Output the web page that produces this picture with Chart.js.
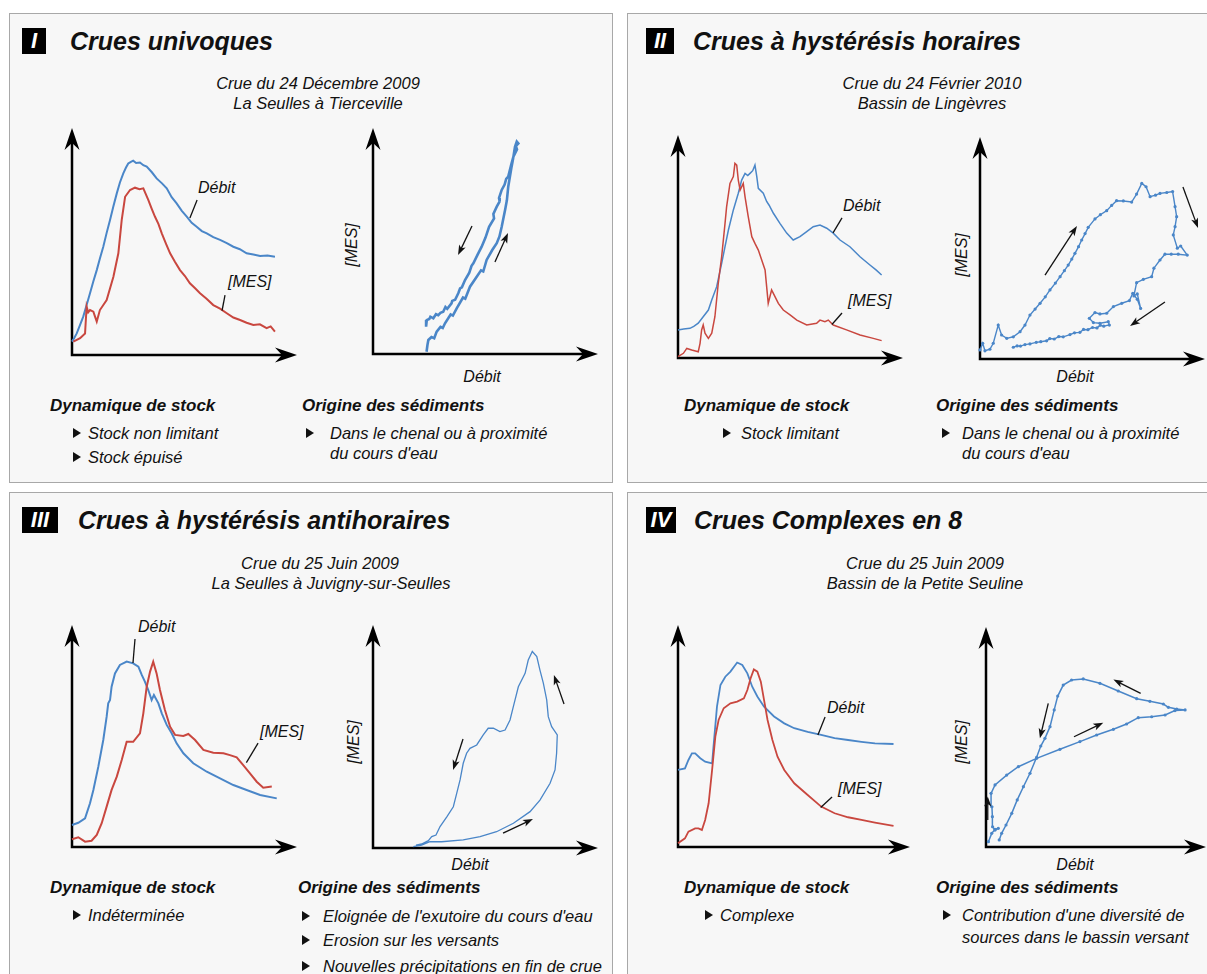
<!DOCTYPE html>
<html><head><meta charset="utf-8">
<script src="https://cdn.jsdelivr.net/npm/chart.js@4"></script>
<style>
html,body{margin:0;padding:0;background:#fff;overflow:hidden}
#root{position:relative;width:1207px;height:974px;overflow:hidden;font-family:"Liberation Sans",Arial,Helvetica,sans-serif;color:#111}
.panel{position:absolute;background:#f7f7f7;border:1px solid #a8a8a8;box-sizing:border-box}
.t{position:absolute;white-space:nowrap;font-style:italic;transform:translateY(-50%);line-height:1}
.c{transform:translate(-50%,-50%)}
.tt{font-weight:bold;font-size:25px}
.sub{font-size:16.5px}
.hd{font-weight:bold;font-size:17px}
.bl{font-size:16.5px}
.lab{font-size:16px}
.rot{transform:translate(-50%,-50%) rotate(-90deg)}
.num{position:absolute;background:#000;color:#fff;font-weight:bold;font-style:italic;font-size:22px;line-height:26px;height:26px;text-align:center}
.tri{position:absolute;width:0;height:0;border-left:8px solid #111;border-top:5.5px solid transparent;border-bottom:5.5px solid transparent;transform:translateY(-50%)}
canvas{position:absolute}
</style></head>
<body><div id="root">
<div class="panel" style="left:9px;top:13px;width:604px;height:470px"></div>
<div class="panel" style="left:627px;top:13px;width:600px;height:470px"></div>
<div class="panel" style="left:9px;top:492px;width:604px;height:500px"></div>
<div class="panel" style="left:627px;top:492px;width:600px;height:500px"></div>

<div class="num" style="left:22px;top:28px;width:24px">I</div>
<div class="t tt" style="left:70px;top:41px">Crues univoques</div>
<div class="t sub c" style="left:318px;top:83px">Crue du 24 Décembre 2009</div>
<div class="t sub c" style="left:318px;top:103px">La Seulles à Tierceville</div>
<div class="t hd" style="left:50px;top:405px">Dynamique de stock</div>
<div class="tri" style="left:73px;top:433px"></div><div class="t bl" style="left:88px;top:433px">Stock non limitant</div>
<div class="tri" style="left:73px;top:457px"></div><div class="t bl" style="left:88px;top:457px">Stock épuisé</div>
<div class="t hd" style="left:302px;top:405px">Origine des sédiments</div>
<div class="tri" style="left:306px;top:433px"></div><div class="t bl" style="left:330px;top:433px">Dans le chenal ou à proximité</div>
<div class="t bl" style="left:330px;top:453px">du cours d'eau</div>

<div class="num" style="left:646px;top:28px;width:28px">II</div>
<div class="t tt" style="left:693px;top:41px">Crues à hystérésis horaires</div>
<div class="t sub c" style="left:932px;top:83px">Crue du 24 Février 2010</div>
<div class="t sub c" style="left:932px;top:103px">Bassin de Lingèvres</div>
<div class="t hd" style="left:684px;top:405px">Dynamique de stock</div>
<div class="tri" style="left:723px;top:433px"></div><div class="t bl" style="left:741px;top:433px">Stock limitant</div>
<div class="t hd" style="left:936px;top:405px">Origine des sédiments</div>
<div class="tri" style="left:942px;top:433px"></div><div class="t bl" style="left:962px;top:433px">Dans le chenal ou à proximité</div>
<div class="t bl" style="left:962px;top:453px">du cours d'eau</div>

<div class="num" style="left:22px;top:507px;width:36px">III</div>
<div class="t tt" style="left:78px;top:520px">Crues à hystérésis antihoraires</div>
<div class="t sub c" style="left:320px;top:563px">Crue du 25 Juin 2009</div>
<div class="t sub c" style="left:331px;top:583px">La Seulles à Juvigny-sur-Seulles</div>
<div class="t hd" style="left:50px;top:887px">Dynamique de stock</div>
<div class="tri" style="left:73px;top:915px"></div><div class="t bl" style="left:88px;top:915px">Indéterminée</div>
<div class="t hd" style="left:298px;top:887px">Origine des sédiments</div>
<div class="tri" style="left:302px;top:916px"></div><div class="t bl" style="left:323px;top:916px">Eloignée de l'exutoire du cours d'eau</div>
<div class="tri" style="left:302px;top:940px"></div><div class="t bl" style="left:323px;top:940px">Erosion sur les versants</div>
<div class="tri" style="left:302px;top:966px"></div><div class="t bl" style="left:323px;top:966px">Nouvelles précipitations en fin de crue</div>

<div class="num" style="left:646px;top:507px;width:30px">IV</div>
<div class="t tt" style="left:694px;top:520px">Crues Complexes en 8</div>
<div class="t sub c" style="left:925px;top:563px">Crue du 25 Juin 2009</div>
<div class="t sub c" style="left:925px;top:583px">Bassin de la Petite Seuline</div>
<div class="t hd" style="left:684px;top:887px">Dynamique de stock</div>
<div class="tri" style="left:705px;top:915px"></div><div class="t bl" style="left:720px;top:915px">Complexe</div>
<div class="t hd" style="left:936px;top:887px">Origine des sédiments</div>
<div class="tri" style="left:943px;top:915px"></div><div class="t bl" style="left:962px;top:915px">Contribution d'une diversité de</div>
<div class="t bl" style="left:962px;top:937px">sources dans le bassin versant</div>

<!-- axis & curve labels -->
<div class="t lab" style="left:198px;top:188px">Débit</div>
<div class="t lab" style="left:228px;top:282px">[MES]</div>
<div class="t lab rot" style="left:352px;top:245px">[MES]</div>
<div class="t lab c" style="left:482px;top:377px">Débit</div>

<div class="t lab" style="left:843px;top:206px">Débit</div>
<div class="t lab" style="left:848px;top:301px">[MES]</div>
<div class="t lab rot" style="left:962px;top:255px">[MES]</div>
<div class="t lab c" style="left:1075px;top:377px">Débit</div>

<div class="t lab" style="left:138px;top:627px">Débit</div>
<div class="t lab" style="left:260px;top:732px">[MES]</div>
<div class="t lab rot" style="left:354px;top:742px">[MES]</div>
<div class="t lab c" style="left:470px;top:865px">Débit</div>

<div class="t lab" style="left:827px;top:708px">Débit</div>
<div class="t lab" style="left:838px;top:789px">[MES]</div>
<div class="t lab rot" style="left:962px;top:742px">[MES]</div>
<div class="t lab c" style="left:1075px;top:865px">Débit</div>
</div>
<script>
// ---------- DATA (relative units: 0..100 along each axis) ----------
const I_debit = [[0,5.9],[1,7.5],[2.1,9.5],[3.5,13],[5,16.9],[6.5,22],[8,27.2],[9.5,32.5],[11,37.4],[12.4,42.5],[13.9,47.7],[15.4,53.8],[16.9,59.5],[18.4,65.5],[19.9,71.2],[21.3,76],[22.8,80],[24,82.6],[25,84.4],[26,85],[27.2,85.6],[28.5,84.6],[30.2,84.8],[31.7,83.6],[33.2,83],[35.5,80.5],[37.6,77.8],[40,75.6],[42.1,73.4],[44.3,69.5],[46.5,66.8],[48.8,63.5],[51,61],[53.2,58.2],[55.4,56.5],[57.7,54.6],[59.9,53.6],[62.8,51.9],[65.8,50.7],[68.8,49.3],[71.7,47.7],[74.6,46.6],[77.6,44.8],[80.6,44.3],[83.6,43.6],[86.9,43.8],[90.2,43.3]];
const I_mes = [[0.6,5.9],[3.6,7.4],[5.8,9.5],[6.5,21.3],[7.2,18.8],[8,19.8],[9.5,19.1],[10.2,17],[11,14.7],[12.4,19.8],[15.4,24.2],[18.4,34.5],[20.6,44.8],[22.1,59.5],[23.6,69.7],[25.8,72.7],[28,73.7],[30,73],[31.7,73.4],[33.9,68.3],[35.4,64.5],[36.9,60.9],[38.4,57.8],[39.9,53.6],[41.8,49],[43.6,44.8],[45.8,41],[48,37.4],[50.2,34.8],[52.4,31.6],[54.6,29.5],[56.9,27.2],[59.8,24.8],[62.8,22],[65.8,20.4],[68.8,18.4],[71.7,16.5],[74.7,15.4],[77.6,14.2],[80.6,13.2],[83.5,13.5],[86.5,11.8],[88.3,12.6],[90.2,10.3]];
const I_loop = [[23.8,1],[24.2,4],[24.6,6.2],[26,7.5],[27.2,7],[28.3,9.9],[30,12],[31,11.5],[32,13.6],[34.5,17.5],[35.5,17],[37.2,20.2],[40,25],[41,24.5],[43.1,29.8],[46.1,34.2],[48,37],[49,36.5],[50.5,41.6],[53,46],[55,49],[56.2,52],[57.2,56.3],[58.7,63.7],[59.5,68],[60.1,74],[61.6,82.9],[62.2,86],[63.1,91.7],[63.9,94],[64.6,93.2],[63.5,92],[64,90.5],[62.4,87.3],[61.5,84],[60.1,78.5],[59.2,77.5],[58.5,75],[57.2,72.6],[56,69],[56.3,67.5],[55,65.2],[53.5,62],[53.8,60],[51.6,56.3],[50,51.5],[48.3,47.5],[46.5,44],[44.6,40.1],[43.8,39],[42.8,36],[40.9,32.7],[39.5,29.5],[38.7,29],[37.9,26.9],[36.5,24],[35.2,23.5],[34.9,22.4],[33,20],[32.2,20.8],[31.2,18.7],[30,18.2],[29,17.2],[28,17.6],[26.8,15.8],[25.5,16.5],[25,15.5],[23.9,15],[23.6,12.1]];

const II_debit = [[0,12.6],[2.5,13],[5.3,13.3],[7,14.2],[9,15.6],[11.2,18.5],[13.5,21.5],[15,26],[17.2,32],[19.4,42.5],[20.9,49.9],[22.4,57.4],[24.6,66.4],[26.8,73.9],[28.3,79.8],[29.8,82.8],[31,81.8],[32,82.8],[33.2,84],[34.2,86.5],[35,81.4],[35.7,76.1],[37.9,73.9],[39.4,70.2],[40.5,68.5],[42.4,64.9],[45.3,60.4],[48.3,56],[51.2,52.9],[54.2,54.4],[57.2,56.7],[60.1,58.9],[63.1,59.6],[66.1,58.2],[69,56],[72,52.9],[76.4,49.9],[80.9,45.4],[85.3,41.7],[88,39.5],[90.5,37.2]];
const II_mes = [[0,0.6],[2.4,2.1],[3.9,4.3],[6.1,3.6],[9,2.8],[9.8,6.6],[10.5,12.6],[11.2,14.8],[12,11.1],[13.5,8.8],[15,11.1],[16.4,18.5],[17.9,33.5],[19.4,45.4],[20.9,60.4],[21.6,67.8],[23.1,78.3],[24.6,81.4],[25.3,87.3],[26.1,86.5],[26.8,79.8],[27.6,75.3],[29,78.3],[29.8,72.3],[31.2,63.5],[32.8,54.4],[34.2,51.4],[35.7,48.4],[37.2,43.9],[38.7,39.5],[40.1,24.5],[41.6,30.5],[43.1,27.5],[44.6,24.5],[46.8,21.5],[49.8,19.3],[52.8,17],[57.2,14.8],[61.6,15.6],[63.1,17],[65.3,16.3],[66.8,17],[69,14.8],[74.9,12.6],[80.9,10.3],[86.8,8.8],[90.5,7.8]];
const II_loop = [[0,4.1],[1.2,7.1],[2.2,3.7],[4.4,4.4],[5.9,7.1],[8.1,15.3],[9.6,10.8],[11.9,9.3],[14.8,10],[17.8,12.3],[20,15.3],[22.2,19.8],[24.5,22.5],[26.7,25.1],[29,28],[31.1,31.1],[33.5,34.2],[35.6,37.1],[37.5,39.8],[39.2,42.3],[40.8,45],[42.2,47.6],[43.8,50.6],[45.2,53.6],[46.7,56.5],[48.1,59.3],[51.1,63.1],[53.5,65],[56.3,66.8],[58.5,69.2],[60.7,71.3],[63.7,71.2],[67.4,70.7],[69.6,74.3],[71.9,79.1],[73.8,77.6],[75.6,73.1],[78,73.8],[80,74.6],[83,75],[85.6,75.4],[86.7,68.6],[87.4,64.1],[86.7,59.6],[85.9,55.9],[87.7,49.9],[89.2,50.9],[92.1,46.8],[88.1,47.2],[85,47.2],[82.2,47.2],[80,44.6],[77.3,40.9],[76.3,37.1],[72.6,35.9],[69.6,34.4],[68.4,28.4],[69.9,29.3],[71.4,22.8],[69.9,26.9],[67.9,29.6],[66.4,26.3],[63,25.1],[59.3,23.6],[56.3,20.6],[53.3,20.3],[51.1,20.9],[48.6,18.3],[50.4,16.4],[53.3,16.1],[57,16.8],[57.5,15.3],[55,14.8],[53.5,15.2],[52,14],[50,14.2],[48,13.2],[46,13.3],[44.4,12],[42,11.8],[40,11],[37,10],[35,10.1],[33,9],[31,9.2],[29.6,8.2],[27,7.8],[25,7.5],[22.2,6.8],[20,6.5],[18,5.8],[16.5,5.9],[14.8,5.3]];

const III_debit = [[0,9.9],[2.8,10.9],[5.8,12.9],[8,19.7],[9.5,25.7],[11.7,36.2],[13.9,48.2],[15.4,58.7],[16.1,64.7],[16.9,66.2],[17.6,72.2],[19.1,78.2],[21.3,82],[24.3,83.5],[27.2,82.7],[29.5,81.2],[31,77.5],[32.4,74.5],[33.9,70.7],[35.4,66.2],[36.4,68.5],[38.4,64.7],[39.9,60.2],[42.1,55],[44.3,51.2],[46.5,46.7],[49.5,42.2],[53.9,37.7],[59.9,33.9],[65.8,30.9],[71.7,27.9],[77.6,25.7],[83.6,23.4],[91,21.9]];
const III_mes = [[0,3.5],[2.8,4.4],[5.8,2.4],[8.7,2.8],[11,5.4],[13.2,10.7],[15.4,18.2],[17.6,25.7],[19.9,31.7],[22.1,39.2],[24.3,47.4],[27.2,47.4],[30.2,51.2],[31.7,60.2],[33.2,72.2],[34.7,79],[36.1,83.5],[37.6,78.2],[39.1,70.7],[41.3,61.7],[43.6,54.2],[45.8,50.5],[49.5,50],[51.7,50.9],[54.7,48.2],[58.4,43.7],[62.8,42.5],[67.3,42.2],[70.2,41.4],[73.2,40.4],[76.1,36.9],[79.1,33.2],[82.1,29.4],[85,26.7],[88.8,27.2]];
const III_loop = [[17.9,0.6],[21.6,1.3],[25.3,2.8],[30.5,2.8],[40.1,3.6],[47.6,5.1],[54.9,7.3],[62.4,11.1],[69.8,16.3],[74.2,21.5],[78.7,29],[80.9,35],[81.6,42.5],[81.9,50.7],[79.4,54.4],[77.9,58.9],[77.2,66.4],[75.7,73.9],[74.2,79.8],[72.8,85.8],[70.8,88.1],[69,84.3],[67.6,78.3],[64.6,72.3],[62.4,63.5],[60.9,57.4],[58.7,52.9],[56.4,52.2],[53.5,53.7],[51.2,53.7],[49,50.7],[46.1,46.2],[43.1,44.7],[41.6,42.5],[40.1,38],[38.7,30.5],[37.2,24.5],[35.7,18.5],[32.8,14],[29.8,9.6],[28,5.8],[26.1,5.1],[24.6,3.3],[21.6,1.8],[19.1,1.3]];

const IV_debit = [[0,34.7],[3,35.4],[4.5,39.2],[6,42.2],[7.4,42.2],[9.6,40],[11.7,38.4],[14.7,37.7],[15.3,45.2],[16.8,63.2],[18.3,73],[20.4,76.7],[22.6,79],[25.5,83.1],[27.7,82],[29.9,78.2],[32,72.2],[34.2,67.8],[37.1,63.2],[41.4,58.8],[45.8,55.7],[50.1,53.5],[55.9,51.9],[61.7,50.5],[67.5,49],[73.3,48.2],[79.1,47.4],[84.9,46.7],[92.9,46.4]];
const IV_mes = [[0,1.7],[3,3.9],[4.5,6.9],[7.4,8.4],[8.8,8.4],[10.3,7.7],[11.7,12.2],[13.2,19.7],[14.7,34.7],[16.1,49.7],[17.5,57.2],[19.7,62.5],[22.6,64.7],[25.5,65.5],[28.4,67],[29.9,70.7],[31.3,76],[32.7,80],[34.2,79],[35.7,74.5],[37.1,66.2],[38.6,57.2],[40.7,48.2],[42.9,40.7],[45.8,34.7],[50.1,28.7],[55.9,23.4],[61.7,18.2],[67.5,15.2],[73.3,13.4],[79.1,12.2],[84.9,11],[92.9,9.5]];
const IV_loop = [[1.1,2.4],[2.6,6.2],[4.1,8],[5.6,8.5],[4.1,7.7],[3,9.2],[2.9,13.8],[2.7,18.3],[2.3,24.4],[4.1,28.2],[9.4,32.7],[14.7,36.5],[23,40.3],[33.6,44.4],[42.7,47.9],[50.3,50.9],[57.9,53.5],[63.9,55.9],[69.2,58.8],[75.3,59.2],[81.4,60],[85.9,62],[90.5,62.3],[86.7,62.7],[82.9,63.5],[80.6,65],[74.5,66.2],[68.5,67.4],[60.1,70.9],[51.8,74.4],[44.2,76.4],[38.9,75.9],[35.1,73.6],[32.6,68.6],[31,62.3],[29.1,54.7],[26.8,49.4],[24.9,45.9],[23,40.8],[20,33.5],[17,27.4],[14.2,21.4],[11.7,15.3],[9.1,10],[7.1,6.2],[6,3.2]];

// annotation leaders [x1,y1,x2,y2] and direction arrows [x1,y1,x2,y2] (relative units)
const I_leaders = [[55.6,68.3,52.4,60.4],[68,26.4,66.7,19.5]];
const II_leaders = [[72.9,62.8,68.9,56.1],[72.9,20.2,68.4,15]];
const III_leaders = [[28,93.7,27.1,82.9],[82.7,46.8,77.5,38]];
const IV_leaders = [[63.4,58.6,60.3,50.5],[66.4,22.5,61.5,17.8]];
const I_arrows = [[44,56.6,37.8,43.8],[54.2,40.7,60,53.5]];
const II_arrows = [[28.9,37.8,43.1,59.9],[90.2,77.5,96.9,59],[82.2,25.7,66.7,14.9]];
const III_arrows = [[40,48.9,35.6,35],[84.9,64.6,80.4,77.6],[57.8,6.7,71.1,13]];
const IV_arrows = [[0.8,12.3,0.8,22.9],[28.3,65.3,24.5,49.4],[40,50.1,53.3,56.5],[70.3,69.8,57.9,76.1]];

// ---------- RENDER ----------
const BLUE = '#4a86c8', RED = '#c9473f';
const root = document.getElementById('root');

function head(ctx, x, y, ang, len, hw, notch){
  ctx.save(); ctx.translate(x,y); ctx.rotate(ang);
  ctx.beginPath(); ctx.moveTo(0,0); ctx.lineTo(-len,-hw); ctx.lineTo(-len+notch,0); ctx.lineTo(-len,hw); ctx.closePath(); ctx.fill();
  ctx.restore();
}

const axesPlugin = {
  id:'axes',
  beforeDatasetsDraw(chart){
    const a = chart.chartArea, ctx = chart.ctx;
    ctx.save(); ctx.strokeStyle='#000'; ctx.fillStyle='#000'; ctx.lineWidth=2.5; ctx.lineCap='butt';
    ctx.beginPath();
    ctx.moveTo(a.left, a.bottom); ctx.lineTo(a.right-14, a.bottom);
    ctx.moveTo(a.left, a.bottom+1.2); ctx.lineTo(a.left, a.top+14);
    ctx.stroke();
    head(ctx, a.right, a.bottom, 0, 22, 7.5, 7);
    head(ctx, a.left, a.top, -Math.PI/2, 22, 7.5, 7);
    ctx.restore();
  },
  afterDatasetsDraw(chart, args, opts){
    const ctx = chart.ctx, sx = chart.scales.x, sy = chart.scales.y;
    ctx.save(); ctx.strokeStyle='#111'; ctx.fillStyle='#111';
    (opts.leaders||[]).forEach(l=>{
      ctx.lineWidth=1.3; ctx.beginPath();
      ctx.moveTo(sx.getPixelForValue(l[0]), sy.getPixelForValue(l[1]));
      ctx.lineTo(sx.getPixelForValue(l[2]), sy.getPixelForValue(l[3]));
      ctx.stroke();
    });
    (opts.arrows||[]).forEach(l=>{
      const x1=sx.getPixelForValue(l[0]), y1=sy.getPixelForValue(l[1]);
      const x2=sx.getPixelForValue(l[2]), y2=sy.getPixelForValue(l[3]);
      const ang=Math.atan2(y2-y1,x2-x1);
      ctx.lineWidth=1.3; ctx.beginPath(); ctx.moveTo(x1,y1); ctx.lineTo(x2-6*Math.cos(ang), y2-6*Math.sin(ang)); ctx.stroke();
      head(ctx, x2, y2, ang, 10, 3.6, 2.5);
    });
    ctx.restore();
  }
};

function pts(a){ return a.map(p=>({x:p[0], y:p[1]})); }

function makeChart(o, datasets, leaders, arrows){
  const pad=12;
  const c=document.createElement('canvas');
  const w=o.tx-o.ox+2*pad, h=o.oy-o.ty+2*pad;
  c.width=w; c.height=h; c.style.width=w+'px'; c.style.height=h+'px';
  c.style.left=(o.ox-pad)+'px'; c.style.top=(o.ty-pad)+'px';
  root.appendChild(c);
  new Chart(c,{
    type:'line',
    data:{datasets},
    options:{
      responsive:false, animation:false, devicePixelRatio:1, events:[],
      layout:{padding:pad},
      plugins:{legend:{display:false}, tooltip:{enabled:false}, axes:{leaders, arrows}},
      scales:{x:{type:'linear',display:false,min:0,max:100}, y:{type:'linear',display:false,min:0,max:100}},
      elements:{line:{tension:0}}
    },
    plugins:[axesPlugin]
  });
}
function ds(data,color,width,pr){
  return {data:pts(data), borderColor:color, backgroundColor:color, borderWidth:width, pointRadius:pr||0, pointBorderWidth:0, pointBackgroundColor:color, fill:false, clip:false};
}

makeChart({ox:72,oy:355,tx:297,ty:128},[ds(I_mes,RED,2),ds(I_debit,BLUE,2)],I_leaders,[]);
makeChart({ox:373,oy:354,tx:598,ty:128},[ds(I_loop,BLUE,2.6)],[],I_arrows);
makeChart({ox:678,oy:358,tx:903,ty:135},[ds(II_mes,RED,1.5),ds(II_debit,BLUE,1.5)],II_leaders,[]);
makeChart({ox:980,oy:359,tx:1205,ty:137},[ds(II_loop,BLUE,1.4,1.6)],[],II_arrows);
makeChart({ox:72,oy:847,tx:297,ty:625},[ds(III_mes,RED,2),ds(III_debit,BLUE,2)],III_leaders,[]);
makeChart({ox:373,oy:848,tx:598,ty:625},[ds(III_loop,BLUE,1.3)],[],III_arrows);
makeChart({ox:678,oy:847,tx:910,ty:625},[ds(IV_mes,RED,1.8),ds(IV_debit,BLUE,1.8)],IV_leaders,[]);
makeChart({ox:986,oy:847,tx:1206,ty:627},[ds(IV_loop,BLUE,1.5,1.6)],[],IV_arrows);
</script>
</body></html>
